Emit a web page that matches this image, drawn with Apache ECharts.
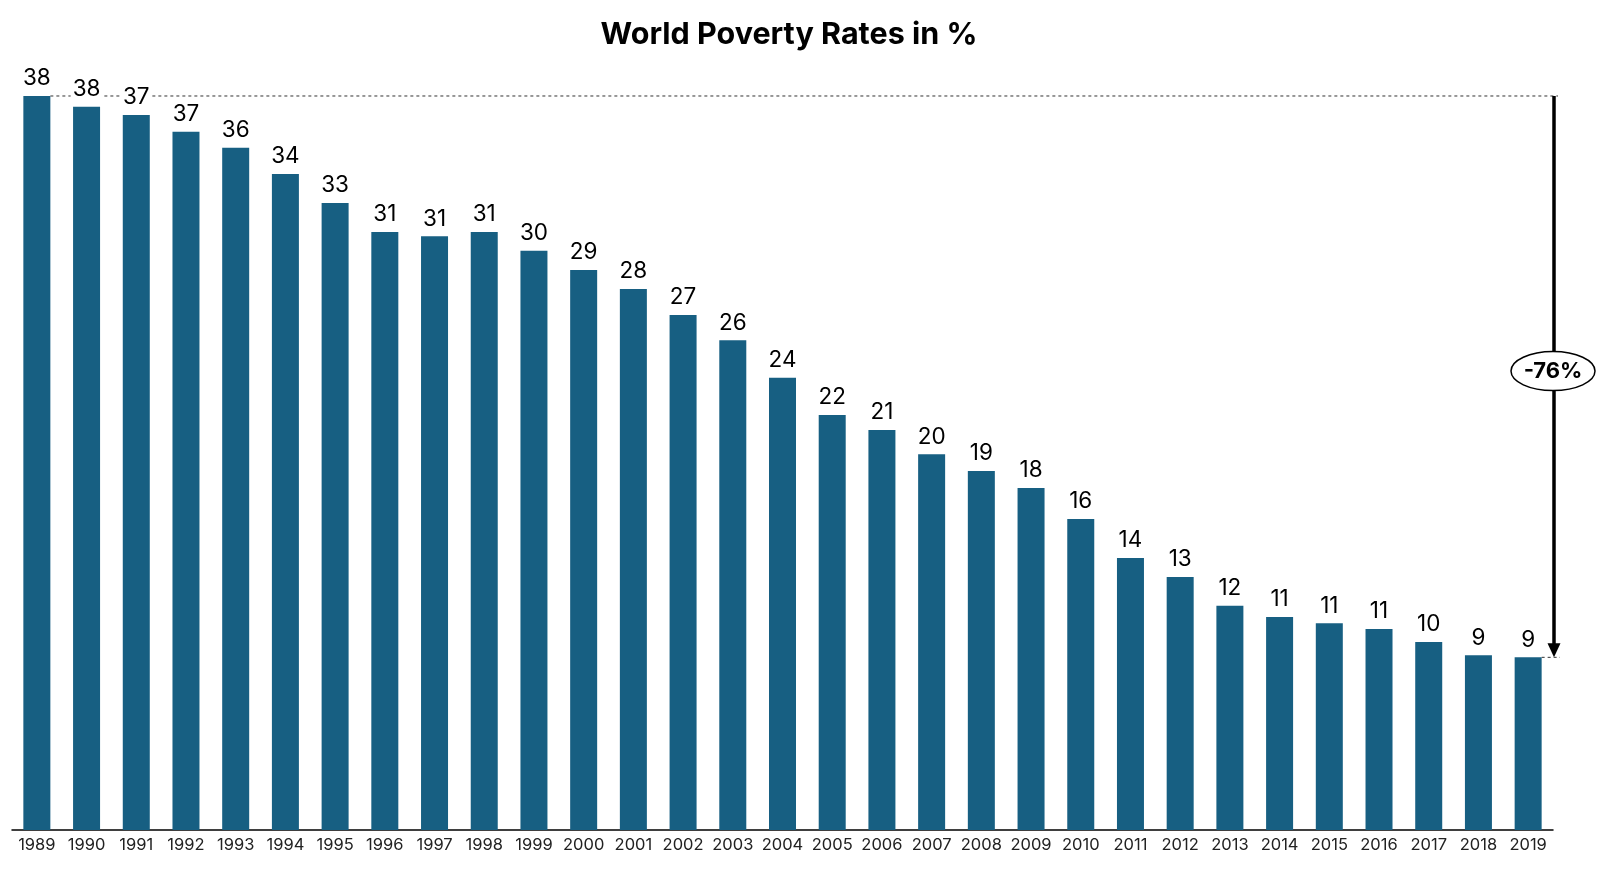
<!DOCTYPE html>
<html>
<head>
<meta charset="utf-8">
<script src="https://cdn.jsdelivr.net/npm/echarts@6/dist/echarts.min.js"></script>
<style>
html,body{margin:0;padding:0;background:#fff;}
#chart{width:1600px;height:875px;}
</style>
</head>
<body>
<div id="chart"></div>
<script>
var years = ['1989','1990','1991','1992','1993','1994','1995','1996','1997','1998','1999','2000','2001','2002','2003','2004','2005','2006','2007','2008','2009','2010','2011','2012','2013','2014','2015','2016','2017','2018','2019'];
var rates = [38.43,37.87,37.43,36.56,35.72,34.35,32.83,31.31,31.08,31.31,30.33,29.32,28.32,26.96,25.64,23.68,21.73,20.94,19.67,18.80,17.91,16.28,14.24,13.25,11.74,11.15,10.82,10.52,9.84,9.15,9.04];
var titleText = 'World Poverty Rates in %';
var changeText = '-76%';

var chart = echarts.init(document.getElementById('chart'));
var FONT = 'Inter';
var option = {
  animation: false,
  backgroundColor: '#ffffff',
  title: {
    text: titleText,
    left: 784,
    top: 14,
    textAlign: 'center',
    textStyle: {fontFamily: FONT, fontWeight: 'bold', fontSize: 30.5, color: '#000'}
  },
  grid: {left: 12, right: 47, top: 66, bottom: 45},
  xAxis: {
    type: 'category',
    data: years,
    axisLine: {show: true, lineStyle: {color: '#000', width: 1.5}},
    axisTick: {show: false},
    axisLabel: {interval: 0, color: '#222', fontFamily: FONT, fontSize: 16.5, margin: 7}
  },
  yAxis: {type: 'value', min: 0, max: 40, show: false, splitLine: {show: false}},
  series: [{
    type: 'bar',
    data: rates,
    barWidth: 27,
    itemStyle: {color: '#175F82'},
    label: {
      show: true,
      position: 'top',
      distance: 5,
      formatter: function (p) { return Math.round(p.value); },
      fontFamily: FONT,
      fontSize: 22.5,
      color: '#000',
      backgroundColor: '#fff',
      padding: [1, 2, 1, 2]
    }
  }]
};
chart.setOption(option);

var first = chart.convertToPixel({seriesIndex: 0}, [0, rates[0]]);
var last = chart.convertToPixel({seriesIndex: 0}, [rates.length - 1, rates[rates.length - 1]]);
var second = chart.convertToPixel({seriesIndex: 0}, [1, rates[1]]);
var band = second[0] - first[0];
var halfBar = 13.5;
var arrowX = last[0] + band / 2 + 1;
var topY = first[1];
var botY = last[1];
var midY = topY + (botY - topY) * 0.49;

chart.setOption({
  graphic: [
    {type: 'line', z: 0, shape: {x1: first[0] + halfBar, y1: topY, x2: arrowX + 4, y2: topY},
     style: {stroke: '#333', lineWidth: 1, lineDash: [3, 3]}},
    {type: 'line', z: 0, shape: {x1: last[0] + halfBar, y1: botY, x2: arrowX + 6, y2: botY},
     style: {stroke: '#333', lineWidth: 1, lineDash: [3, 3]}},
    {type: 'line', z: 10, shape: {x1: arrowX, y1: topY, x2: arrowX, y2: botY - 12},
     style: {stroke: '#000', lineWidth: 3.5}},
    {type: 'polygon', z: 10, shape: {points: [[arrowX - 6.5, botY - 14], [arrowX + 6.5, botY - 14], [arrowX, botY]]},
     style: {fill: '#000'}},
    {type: 'ellipse', z: 11, shape: {cx: arrowX - 1, cy: midY, rx: 42, ry: 19.5},
     style: {fill: '#fff', stroke: '#000', lineWidth: 1.5}},
    {type: 'text', z: 12, x: arrowX - 1, y: midY,
     style: {text: changeText, fontFamily: FONT, fontWeight: 'bold', fontSize: 22, fill: '#000', align: 'center', verticalAlign: 'middle'}}
  ]
});
</script>
</body>
</html>
